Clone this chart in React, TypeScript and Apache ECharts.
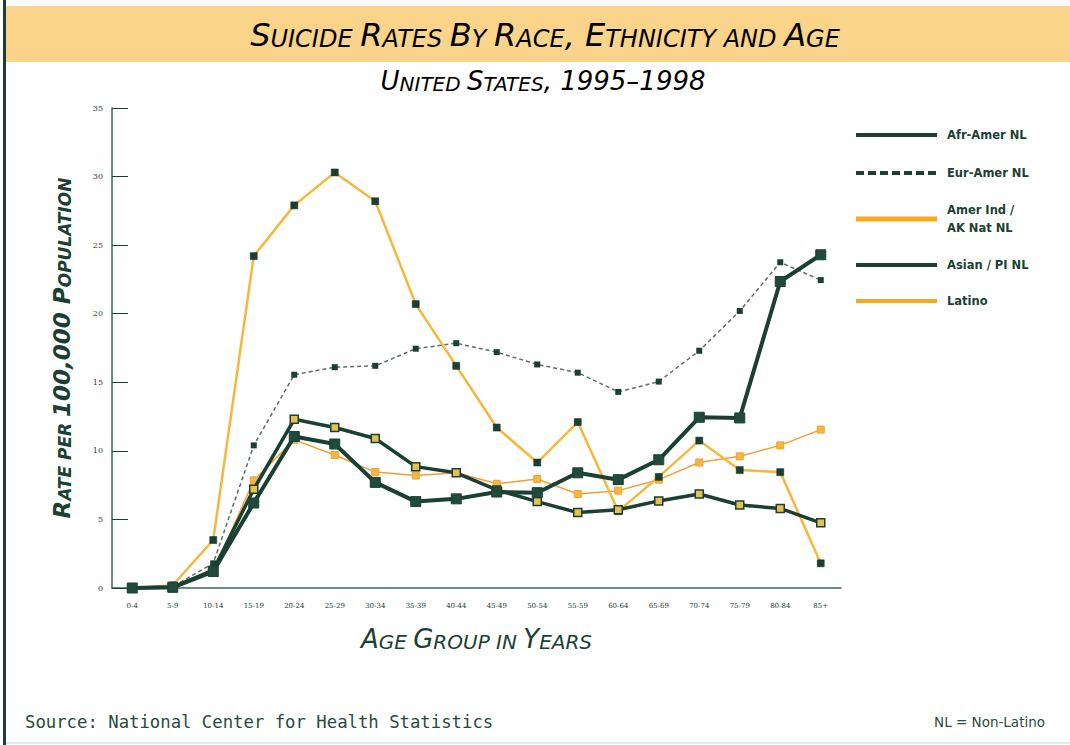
import React, { useEffect, useRef } from "react";
import * as echarts from "echarts";

const categories = ["0-4", "5-9", "10-14", "15-19", "20-24", "25-29", "30-34", "35-39", "40-44", "45-49", "50-54", "55-59", "60-64", "65-69", "70-74", "75-79", "80-84", "85+"];
const seriesNames = ["Afr-Amer NL", "Eur-Amer NL", "Amer Ind /\nAK Nat NL", "Asian / PI NL", "Latino"];
const afrAmer = [0, 0.05, 1.3, 7.2, 12.3, 11.7, 10.9, 8.85, 8.4, 7.15, 6.3, 5.5, 5.7, 6.35, 6.85, 6.05, 5.8, 4.75];
const eurAmer = [0, 0.1, 1.8, 10.4, 15.55, 16.1, 16.2, 17.45, 17.85, 17.2, 16.3, 15.7, 14.3, 15.05, 17.3, 20.2, 23.75, 22.45];
const amerInd = [0, 0.2, 3.5, 24.2, 27.9, 30.3, 28.2, 20.7, 16.2, 11.7, 9.15, 12.1, 5.6, 8.1, 10.75, 8.6, 8.45, 1.8];
const asianPI = [0, 0.05, 1.2, 6.2, 11.05, 10.5, 7.7, 6.3, 6.5, 7.0, 6.95, 8.4, 7.9, 9.35, 12.45, 12.4, 22.35, 24.3];
const latino = [0, 0.1, 1.15, 7.85, 10.8, 9.7, 8.45, 8.2, 8.4, 7.6, 7.95, 6.85, 7.1, 7.9, 9.15, 9.6, 10.4, 11.55];
const yTicks = [0, 5, 10, 15, 20, 25, 30, 35];

const DARK = "#1b3f33";
const AXIS = "#2f6b57";
const YELLOW = "#f5b83c";
const ORANGE = "#f2a035";
const LEG_ORANGE = "#f6a81e";
const TITLE_FONT = "'DejaVu Sans', Verdana, sans-serif";

// small caps emulation: uppercase/digits -> big, lowercase -> small caps
function sc(s: string): string {
  let out = "";
  let cur = "";
  let cls = "";
  for (const ch of s) {
    let c: string;
    if (ch === " ") c = cls || "b";
    else c = ch >= "a" && ch <= "z" ? "b" : "a";
    if (c !== cls && cur) {
      out += `{${cls}|${cur}}`;
      cur = "";
    }
    cls = c;
    cur += ch.toUpperCase();
  }
  if (cur) out += `{${cls}|${cur}}`;
  return out;
}

function richStyles(big: number, small: number, weight: string = "normal") {
  const base = { fontFamily: TITLE_FONT, fontStyle: "italic", fontWeight: weight, color: DARK, verticalAlign: "bottom", lineHeight: big + 4 };
  return { a: { ...base, fontSize: big }, b: { ...base, fontSize: small } };
}

export default function App() {
  const ref = useRef<HTMLDivElement>(null);
  useEffect(() => {
    if (!ref.current) return;
    const chart = echarts.init(ref.current, undefined, { renderer: "svg" });
    const legendYs = [135, 173, 219, 265, 301];
    const legendStyles = [
      { color: DARK, width: 4, dash: "solid" as any },
      { color: DARK, width: 4, dash: [8, 4] as any },
      { color: LEG_ORANGE, width: 5, dash: "solid" as any },
      { color: DARK, width: 4, dash: "solid" as any },
      { color: LEG_ORANGE, width: 4, dash: "solid" as any },
    ];
    const legendGraphics: any[] = [];
    seriesNames.forEach((n, i) => {
      legendGraphics.push({
        type: "line",
        shape: { x1: 856, y1: legendYs[i], x2: 937, y2: legendYs[i] },
        style: { stroke: legendStyles[i].color, lineWidth: legendStyles[i].width, lineDash: legendStyles[i].dash },
      });
      legendGraphics.push({
        type: "text",
        x: 947,
        y: legendYs[i],
        style: {
          text: n,
          fill: DARK,
          font: "bold 11.5px 'DejaVu Sans', sans-serif",
          textVerticalAlign: "middle",
          lineHeight: 18,
        },
      });
    });

    const option: any = {
      animation: false,
      backgroundColor: "#ffffff",
      grid: { left: 112, top: 108, width: 729, height: 480 },
      graphic: [
        { type: "rect", shape: { x: 3, y: 0, width: 3, height: 745 }, style: { fill: DARK } },
        { type: "rect", shape: { x: 6, y: 6, width: 1064, height: 56 }, style: { fill: "#fbd48b" } },
        { type: "rect", shape: { x: 6, y: 742, width: 1064, height: 2 }, style: { fill: "#d8eef0" } },
        {
          type: "text",
          x: 545,
          y: 33,
          style: {
            text: sc("Suicide Rates By Race, Ethnicity and Age"),
            rich: richStyles(32, 24),
            textAlign: "center",
            textVerticalAlign: "middle",
          },
        },
        {
          type: "text",
          x: 543,
          y: 79,
          style: {
            text: sc("United States, 1995–1998"),
            rich: richStyles(26, 20),
            textAlign: "center",
            textVerticalAlign: "middle",
          },
        },
        {
          type: "text",
          x: 25,
          y: 722,
          style: {
            text: "Source: National Center for Health Statistics",
            fill: "#2a4a40",
            font: "17.3px 'DejaVu Sans Mono', monospace",
            textVerticalAlign: "middle",
          },
        },
        {
          type: "text",
          x: 1045,
          y: 722,
          style: {
            text: "NL = Non-Latino",
            fill: "#2a4a40",
            font: "13.5px 'DejaVu Sans', sans-serif",
            textAlign: "right",
            textVerticalAlign: "middle",
          },
        },
        ...legendGraphics,
      ],
      xAxis: {
        type: "category",
        data: categories,
        boundaryGap: true,
        name: sc("Age Group in Years"),
        nameLocation: "middle",
        nameGap: 34,
        nameTextStyle: { rich: richStyles(26, 20) },
        axisLine: { lineStyle: { color: AXIS, width: 1.5 } },
        axisTick: { alignWithLabel: true, inside: true, length: 12, lineStyle: { color: DARK, width: 1 } },
        axisLabel: { fontSize: 7, color: DARK, margin: 14, fontFamily: "'DejaVu Serif', serif", interval: 0 },
        splitLine: { show: false },
      },
      yAxis: {
        type: "value",
        min: 0,
        max: 35,
        interval: 5,
        name: sc("Rate per 100,000 Population"),
        nameLocation: "middle",
        nameGap: 39,
        nameTextStyle: { rich: richStyles(23, 17, "bold") },
        axisLine: { show: true, lineStyle: { color: AXIS, width: 1.5 } },
        axisTick: { show: true, inside: true, length: 16, lineStyle: { color: DARK, width: 1 } },
        axisLabel: {
          fontSize: 8,
          color: DARK,
          margin: 9,
          fontFamily: "'DejaVu Serif', serif",
          formatter: (v: number) => (yTicks.indexOf(v) >= 0 ? String(v) : ""),
        },
        splitLine: { show: false },
      },
      series: [
        {
          name: "Latino",
          type: "line",
          data: latino,
          symbol: "rect",
          symbolSize: 7,
          lineStyle: { color: ORANGE, width: 1.5 },
          itemStyle: { color: YELLOW, borderColor: ORANGE, borderWidth: 1 },
          z: 2,
        },
        {
          name: "Amer Ind / AK Nat NL",
          type: "line",
          data: amerInd,
          symbol: "rect",
          symbolSize: 7,
          lineStyle: { color: YELLOW, width: 2.5 },
          itemStyle: { color: DARK, borderColor: "#0f2a20", borderWidth: 0.5 },
          z: 3,
        },
        {
          name: "Eur-Amer NL",
          type: "line",
          data: eurAmer,
          symbol: "rect",
          symbolSize: 6,
          lineStyle: { color: "#5d6d66", width: 1.5, type: [4, 3] },
          itemStyle: { color: DARK },
          z: 4,
        },
        {
          name: "Afr-Amer NL",
          type: "line",
          data: afrAmer,
          symbol: "rect",
          symbolSize: 8,
          lineStyle: { color: DARK, width: 3.5 },
          itemStyle: { color: "#e6c24c", borderColor: DARK, borderWidth: 1.5 },
          z: 5,
        },
        {
          name: "Asian / PI NL",
          type: "line",
          data: asianPI,
          symbol: "rect",
          symbolSize: 10,
          lineStyle: { color: DARK, width: 4 },
          itemStyle: { color: "#1f4a3c", borderColor: DARK, borderWidth: 1 },
          z: 6,
        },
      ],
    };
    chart.setOption(option);
    return () => chart.dispose();
  }, []);
  return (
    <div
      ref={ref}
      style={{ position: "absolute", left: 0, top: 0, width: 1070, height: 745, background: "#fff" }}
    />
  );
}
